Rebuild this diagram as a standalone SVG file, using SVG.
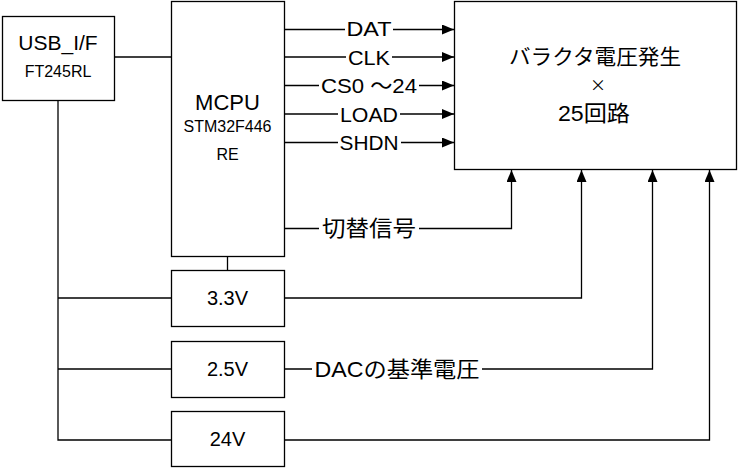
<svg xmlns="http://www.w3.org/2000/svg" width="738" height="468" viewBox="0 0 738 468">
<style>
.box{fill:#fff;stroke:#000;stroke-width:1.3}
.ln{fill:none;stroke:#000;stroke-width:1.3}
text{font-family:"Liberation Sans","Noto Sans CJK JP",sans-serif;fill:#000;text-anchor:middle}
.bg{fill:#fff}
.cj{font-family:"Noto Sans CJK JP",sans-serif}
</style>
<defs>
<marker id="ah" viewBox="0 0 12 10" refX="12" refY="5" markerWidth="12" markerHeight="10" markerUnits="userSpaceOnUse" orient="auto">
<path d="M0,0 L12,5 L0,10 Z" fill="#000"/>
</marker>
</defs>
<rect width="738" height="468" fill="#fff"/>
<g id="connectors">
<line class="ln" x1="114" y1="57" x2="171" y2="57"/>
<polyline class="ln" points="58,100 58,440 171,440"/>
<line class="ln" x1="58" y1="298" x2="171" y2="298"/>
<line class="ln" x1="58" y1="369" x2="171" y2="369"/>
<line class="ln" x1="227.5" y1="256" x2="227.5" y2="270"/>
<line class="ln" x1="284" y1="29.5" x2="454" y2="29.5" marker-end="url(#ah)"/>
<line class="ln" x1="284" y1="57" x2="454" y2="57" marker-end="url(#ah)"/>
<line class="ln" x1="284" y1="85.5" x2="454" y2="85.5" marker-end="url(#ah)"/>
<line class="ln" x1="284" y1="114" x2="454" y2="114" marker-end="url(#ah)"/>
<line class="ln" x1="284" y1="142.5" x2="454" y2="142.5" marker-end="url(#ah)"/>
<polyline class="ln" points="284,228.5 511.5,228.5 511.5,170" marker-end="url(#ah)"/>
<polyline class="ln" points="284,298 581.5,298 581.5,170" marker-end="url(#ah)"/>
<polyline class="ln" points="284,369 652.5,369 652.5,170" marker-end="url(#ah)"/>
<polyline class="ln" points="284,440 709.5,440 709.5,170" marker-end="url(#ah)"/>
</g>
<g id="labels">
<rect class="bg" x="345" y="20" width="48" height="18"/>
<text x="369" y="36" font-size="21" textLength="45" lengthAdjust="spacingAndGlyphs">DAT</text>
<rect class="bg" x="346" y="48" width="46" height="18"/>
<text x="369" y="65" font-size="21" textLength="42" lengthAdjust="spacingAndGlyphs">CLK</text>
<rect class="bg" x="319" y="76" width="100" height="18"/>
<text x="369" y="93" font-size="21" textLength="96" lengthAdjust="spacingAndGlyphs">CS0 ～24</text>
<rect class="bg" x="338" y="104" width="62" height="18"/>
<text x="369" y="121.5" font-size="21" textLength="58" lengthAdjust="spacingAndGlyphs">LOAD</text>
<rect class="bg" x="338" y="133" width="63" height="18"/>
<text x="369" y="150" font-size="21" textLength="59" lengthAdjust="spacingAndGlyphs">SHDN</text>
<rect class="bg" x="319" y="215" width="100" height="24"/>
<text x="369" y="235.5" font-size="22" textLength="94" lengthAdjust="spacingAndGlyphs">切替信号</text>
<rect class="bg" x="312" y="356" width="170" height="24"/>
<text x="397" y="376.5" font-size="22" textLength="165" lengthAdjust="spacingAndGlyphs">DACの基準電圧</text>
</g>
<g id="usb">
<rect class="box" x="2.5" y="16.5" width="112" height="84"/>
<text x="58" y="50" font-size="21">USB_I/F</text>
<text x="58" y="77" font-size="16">FT245RL</text>
</g>
<g id="mcpu">
<rect class="box" x="171.5" y="1.5" width="113" height="255"/>
<text x="227.5" y="110" font-size="22">MCPU</text>
<text x="227.5" y="132" font-size="16">STM32F446</text>
<text x="227.5" y="160" font-size="16">RE</text>
</g>
<g id="varactor">
<rect class="box" x="454.5" y="1.5" width="282" height="168"/>
<text x="595" y="64" font-size="21" textLength="172" lengthAdjust="spacingAndGlyphs">バラクタ電圧発生</text>
<text class="cj" x="598" y="91" font-size="16">×</text>
<text x="594" y="121" font-size="22" textLength="72" lengthAdjust="spacingAndGlyphs">25回路</text>
</g>
<g id="v33">
<rect class="box" x="171.5" y="270.5" width="113" height="56"/>
<text x="227.5" y="304.5" font-size="20">3.3V</text>
</g>
<g id="v25">
<rect class="box" x="171.5" y="341.5" width="113" height="56"/>
<text x="227.5" y="375.5" font-size="20">2.5V</text>
</g>
<g id="v24">
<rect class="box" x="171.5" y="411.5" width="113" height="55"/>
<text x="227.5" y="446" font-size="20">24V</text>
</g>
</svg>
